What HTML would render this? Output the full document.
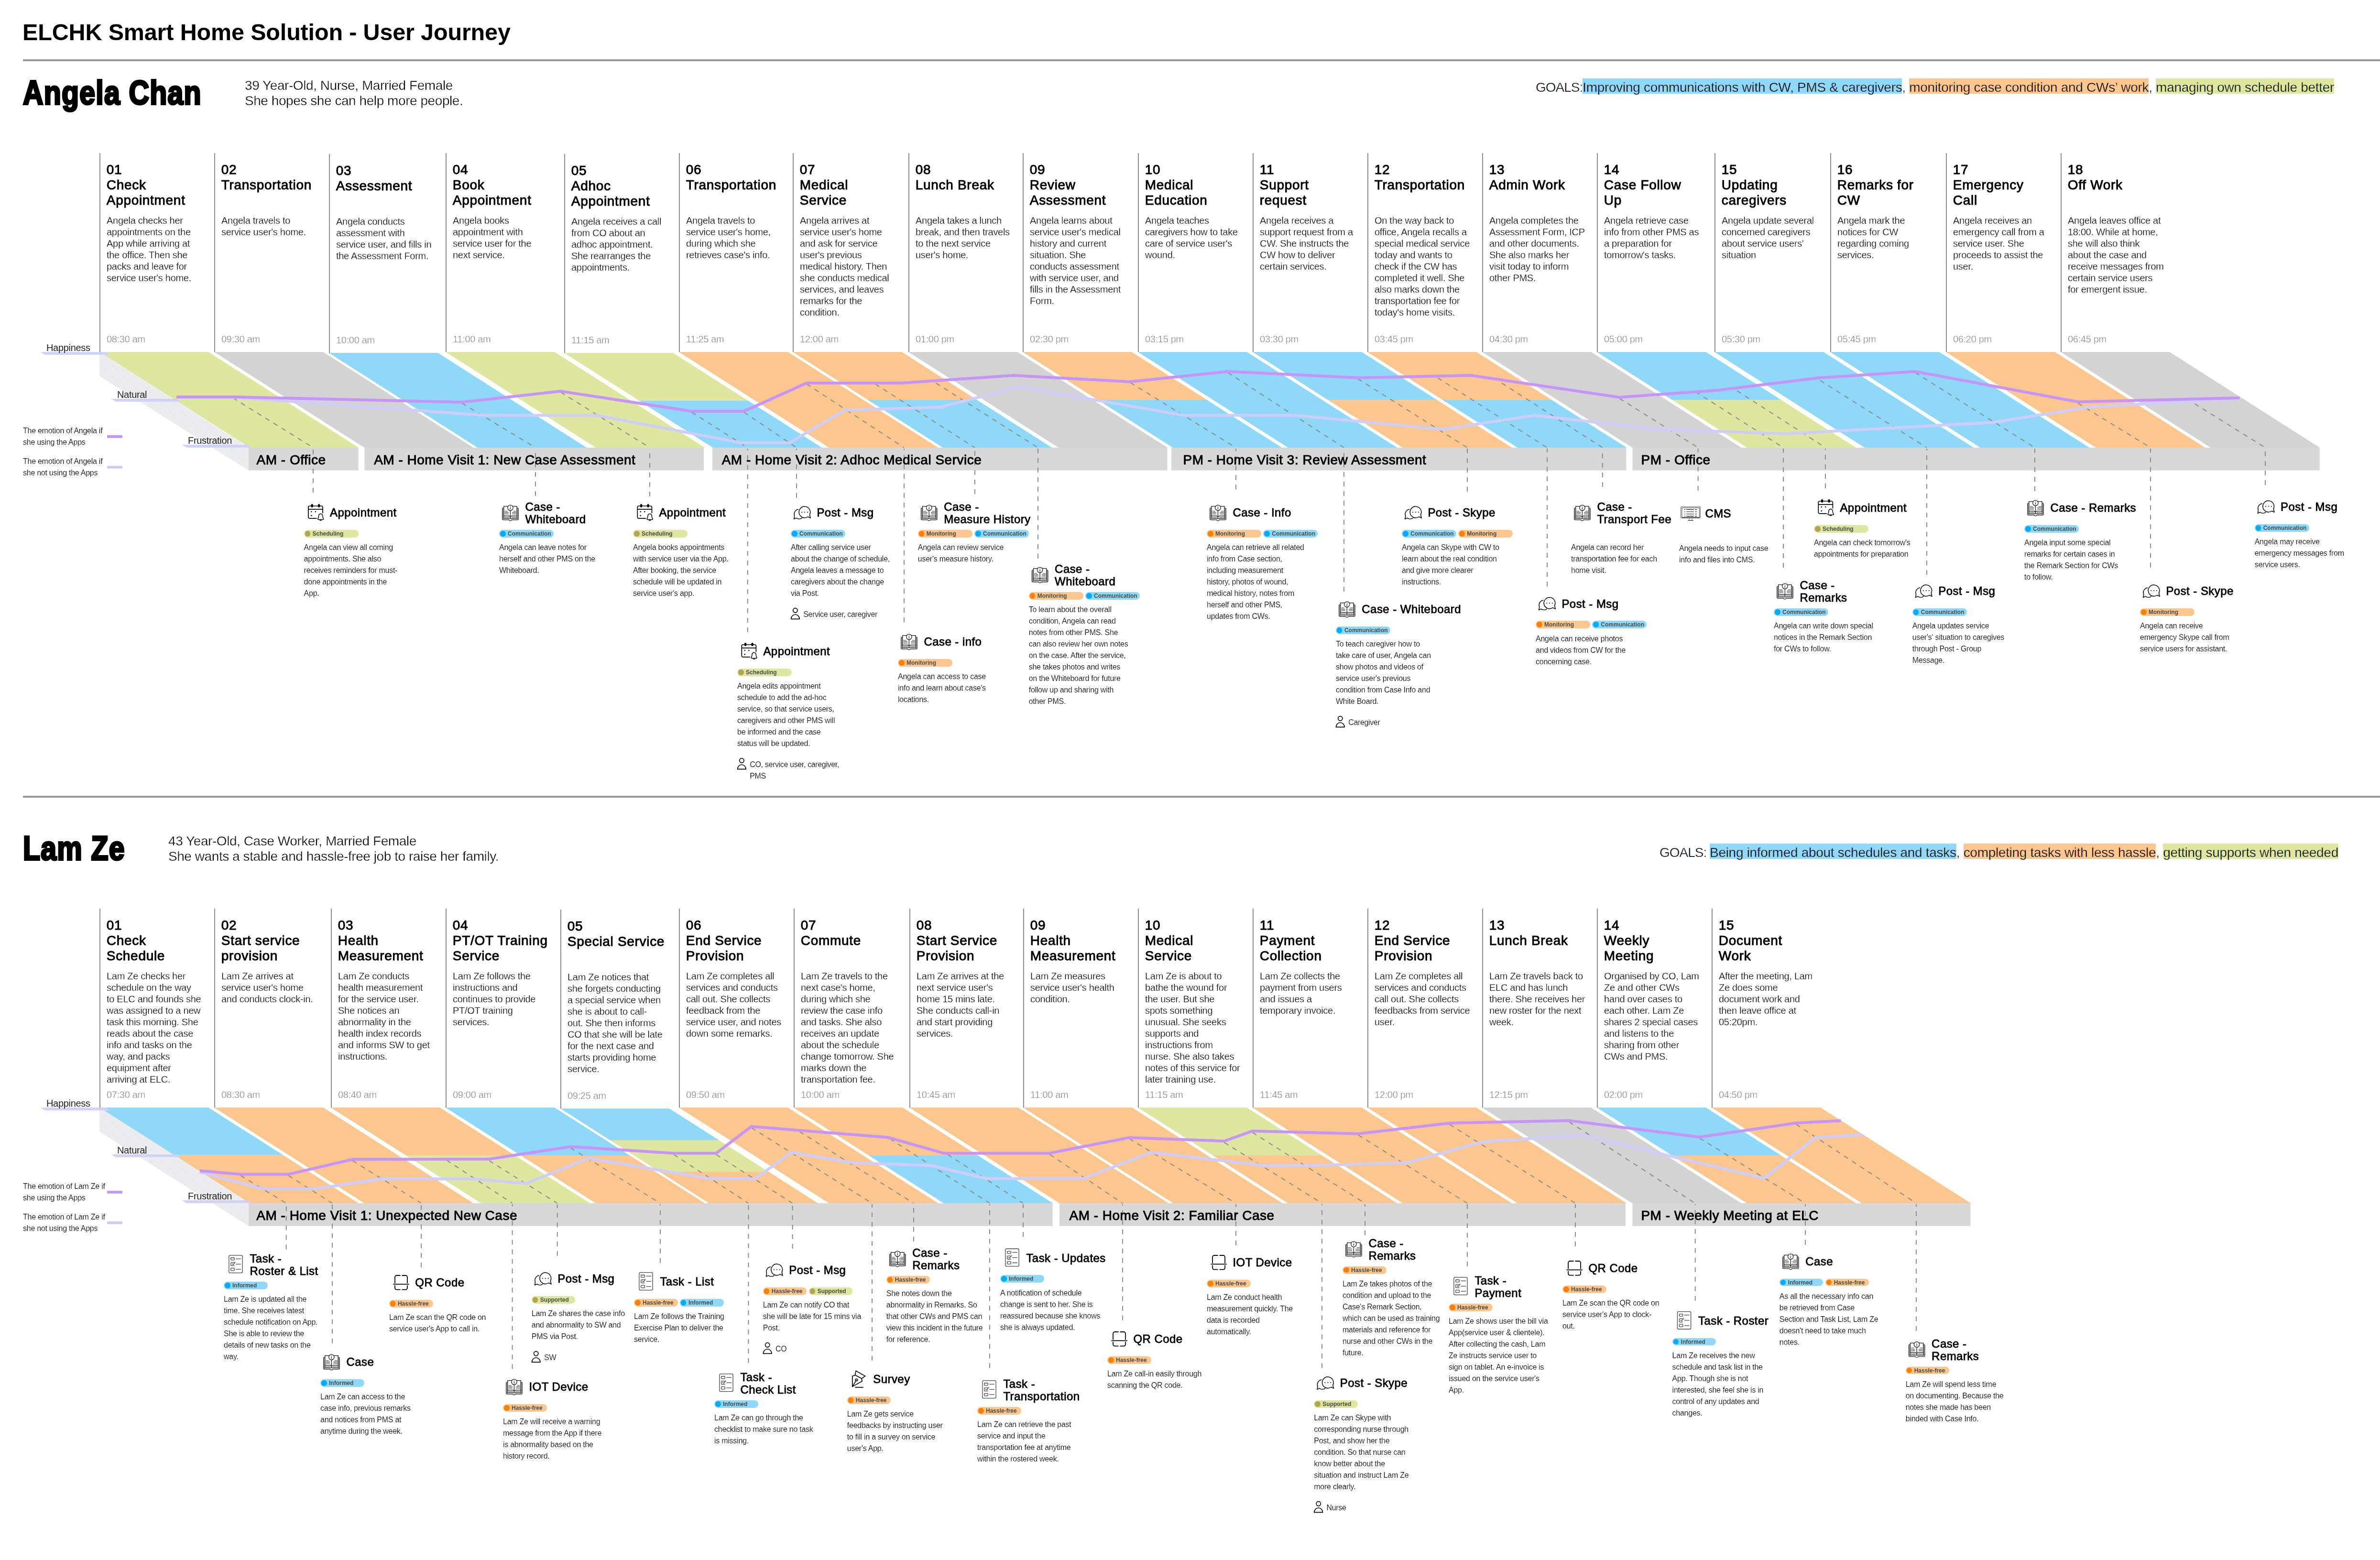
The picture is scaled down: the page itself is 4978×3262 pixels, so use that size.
<!DOCTYPE html>
<html><head><meta charset="utf-8"><title>ELCHK Smart Home Solution - User Journey</title>
<style>
*{margin:0;padding:0;box-sizing:border-box}
html,body{width:4978px;height:3262px;background:#fff;overflow:hidden}
body{position:relative;font-family:"Liberation Sans",sans-serif;color:#000}
.t{position:absolute;white-space:nowrap}
.title{font-size:48.5px;line-height:56px;font-weight:bold;letter-spacing:-0.15px}
.hr{position:absolute;left:48px;right:0;height:4px;background:#979797}
.name{font-size:70px;line-height:80px;font-weight:bold;letter-spacing:1.5px;-webkit-text-stroke:4px #000;stroke-linejoin:miter;transform-origin:0 0;transform:scaleX(0.8414)}
.sub{font-size:28px;line-height:32px;color:#000;-webkit-text-stroke:.4px #fff;letter-spacing:-0.44px}
.goals{font-size:28px;line-height:32px;color:#000;letter-spacing:-0.3px}
.gb{color:transparent}
.goals span{padding:2.7px 0 0;background-repeat:no-repeat;background-size:100% 32px}
.vl{position:absolute;width:2px;height:416px;background:#8e8e8e}
.ct{font-size:28px;line-height:32px;letter-spacing:0.69px;-webkit-text-stroke:.95px #000}
.cd{font-size:20px;line-height:24px;color:#000;-webkit-text-stroke:.28px #fff;letter-spacing:-0.29px}
.tm{font-size:20px;line-height:24px;color:#888;-webkit-text-stroke:.3px #fff;letter-spacing:-0.31px}
.bar{font-size:28px;line-height:32px;letter-spacing:0.49px;-webkit-text-stroke:.95px #000}
.kt{font-size:24px;line-height:25.6px;letter-spacing:0.45px;-webkit-text-stroke:.8px #000}
.kd{font-size:16px;line-height:24px;color:#000;-webkit-text-stroke:.18px #fff;letter-spacing:-0.256px}
.per{font-size:16px;line-height:24px;color:#000;-webkit-text-stroke:.18px #fff;letter-spacing:-0.35px}
.ax{font-size:20px;line-height:24px;color:#222;letter-spacing:-0.32px}
.leg{font-size:16px;line-height:23.9px;color:#000;-webkit-text-stroke:.18px #fff;letter-spacing:-0.26px}
.tag{position:absolute;height:15.8px;border-radius:8px}
.tagt{font-size:12px;line-height:17.8px;font-weight:bold;color:#4a4a4a;letter-spacing:0px}
.tag i{position:absolute;left:2.2px;top:2.2px;width:11.4px;height:11.4px;border-radius:50%}
.ic{position:absolute;left:0;top:0;overflow:visible}
#L{position:absolute;left:0;top:0}
#TX{position:absolute;left:0;top:0;width:4978px;height:3262px;filter:grayscale(1)}
.dd{fill:none;stroke:#8b8b8b;stroke-width:2;stroke-dasharray:10 10}
.dv{fill:none;stroke:#8b8b8b;stroke-width:2;stroke-dasharray:10 10}
.el{fill:none;stroke-width:6;stroke-linejoin:miter}
</style></head>
<body>
<svg width="0" height="0" style="position:absolute"><defs>
<symbol id="i-cal" viewBox="0 0 36 37"><g fill="none" stroke="#000" stroke-width="1.7" stroke-linecap="round">
<path d="M32 19.500V7.800a2.800 2.800 0 0 0-2.800-2.800H4.700a2.800 2.800 0 0 0-2.800 2.800v20.300a2.800 2.800 0 0 0 2.800 2.800H18.800"/><path d="M1.900 11.900H32" stroke-linecap="butt"/>
<path d="M27.700 21.200c-3.200.5-4.200 2.900-4.200 5.400 0 2.900-.9 4.100-1.700 5.300-.5.800.1 1.500.9 1.500h10c.8 0 1.400-.7.900-1.500-.8-1.200-1.700-2.400-1.700-5.300 0-2.500-1-4.900-4.200-5.400z" stroke-width="1.500" stroke-linejoin="round"/>
<path d="M25.900 34.200a1.900 1.600 0 0 0 3.600 0" stroke-width="1.400"/></g>
<rect x="7.500" y="1" width="4.400" height="7" rx="2.200"/><rect x="22" y="1" width="4.400" height="7" rx="2.200"/>
<circle cx="8.300" cy="17" r="1.300"/><circle cx="16.900" cy="17" r="1.300"/><circle cx="8.300" cy="25.200" r="1.300"/></symbol>

<symbol id="i-book" viewBox="0 0 36 37"><g fill="none" stroke="#333" stroke-width="1.300">
<rect x="1.400" y="9" width="3" height="23" fill="#a5a5a5" stroke="none"/><rect x="31.600" y="9" width="3" height="23" fill="#a5a5a5" stroke="none"/>
<path d="M4.300 8.100H3a1.800 1.800 0 0 0-1.800 1.800v21.300a1.800 1.800 0 0 0 1.800 1.800h12.300a2.700 2.700 0 0 0 5.200 0h12.400a1.800 1.800 0 0 0 1.800-1.800V9.900a1.800 1.800 0 0 0-1.800-1.800h-1.300"/>
<rect x="4.300" y="4.700" width="27.300" height="25.500" fill="#fff" stroke="#222"/>
<circle cx="17.900" cy="7.800" r="5.700" fill="#fff" stroke="#222"/>
<path d="M17.900 13.500V30.200" stroke="#222"/>
<path d="M17.900 6.600v4.300M17.900 4v1.100" stroke="#222" stroke-width="1.200"/>
<path d="M5.900 15.100h6.300M5.900 18h8.500M5.900 20.900h8.500M24.100 15.100h6.200M21.800 18h8.500M21.800 20.900h8.500M5.800 27.800h9.600M20.400 27.800h9.600" stroke="#555" stroke-width="1.300"/>
<path d="M4.300 24.700h8.700q4.900 0 4.900 3.200q0-3.200 4.900-3.200h8.800" stroke="#333" stroke-width="1.500"/></g></symbol>

<symbol id="i-chat" viewBox="0 0 38 30"><g fill="none" stroke="#000" stroke-width="1.500" stroke-linejoin="round">
<path d="M10.600 7.900A10.200 10.200 0 0 0 2.300 21.800L1.200 28.200l4.700-2.100A10.200 10.200 0 0 0 18.200 25.900"/>
<path d="M34 19.200A11.800 11.800 0 1 0 30.300 23.500l5.400 2.700z" fill="#fff"/></g>
<rect x="16.700" y="13.200" width="1.700" height="1.700"/><rect x="22.700" y="13.200" width="1.700" height="1.700"/><rect x="28.700" y="13.200" width="1.700" height="1.700"/></symbol>

<symbol id="i-task" viewBox="0 0 31 40"><g fill="none" stroke="#444" stroke-width="1.300">
<rect x="1.350" y="1.450" width="28.200" height="36.700" rx="2.300"/>
<rect x="5.300" y="6.500" width="7.400" height="4.800" rx=".8"/><path d="M12.700 18V17.200a.9.900 0 0 0-.9-.9H6.200a.9.900 0 0 0-.9.900v5.100a.9.900 0 0 0 .9.900h5.600a.9.900 0 0 0 .9-.7"/><rect x="5.300" y="28.100" width="7.400" height="5.200" rx=".8"/>
<path d="M15.900 8.800h10.600M15.900 19.800h10.600M15.900 30.700h10.600M7.700 19.100l2.700 1.700l4.500-5.700"/></g></symbol>

<symbol id="i-qr" viewBox="0 0 35 34"><g fill="none" stroke="#000" stroke-width="1.800" stroke-linecap="round">
<path d="M1.500 20.400h32.100M4.500 17.700V5.600a3.600 3.600 0 0 1 3.600-3.600h7.200M19.700 2h7.200a3.600 3.600 0 0 1 3.600 3.600V17.700M4.500 23.300v4.800a3.600 3.600 0 0 0 3.600 3.600h7.200M19.700 31.700h7.200a3.600 3.600 0 0 0 3.600-3.600V23.300"/></g></symbol>

<symbol id="i-pen" viewBox="0 0 32 38"><g fill="none" stroke="#000" stroke-width="1.700" stroke-linejoin="miter">
<path d="M10.200 1.600L29.500 12.300L22.300 17.600L8.500 10.200z"/><path d="M8.500 10.200L2.800 12.600V34.400L23 23.300L22.300 17.600"/>
<circle cx="11.400" cy="20.500" r="2.200"/><path d="M10.200 22.500L2.800 34.400M8.500 35.900h17.100" /></g></symbol>

<symbol id="i-mon" viewBox="0 0 43 31"><g fill="none" stroke="#3a3a3a" stroke-width=".9">
<rect x="1.250" y="1.350" width="40.600" height="23.300" rx=".6"/><rect x="3.450" y="3.450" width="36.400" height="19.900" /><path d="M3.400 23.600h36.500" stroke-width="1.300"/>
<path d="M18.500 24.900v4.600M24.500 24.900v4.600" stroke="#999" stroke-width="1.500"/><path d="M15.800 29.900h11.400" stroke="#333" stroke-width="1.100"/>
<path d="M8.500 6.900h2M12.600 6.900h15.700M30.700 6.900h3.800M8.500 20.800h2M12.600 20.800h15.700M30.700 20.800h3.800" stroke="#111" stroke-width="1.300"/>
<path d="M8.500 11.600h2M12.600 11.600h15.700M30.700 11.600h3.800M8.500 16.200h2M12.600 16.200h15.700M30.700 16.200h3.800" stroke="#666" stroke-width="1.500"/></g></symbol>

<symbol id="i-per" viewBox="0 0 21 26"><g fill="none" stroke="#000" stroke-width="1.700" stroke-linejoin="round">
<circle cx="10.300" cy="6.200" r="4.600"/><path d="M1.500 24.200a8.800 9.300 0 0 1 17.600 0z"/></g></symbol>
</defs></svg>
<svg id="L" width="4978" height="3262" viewBox="0 0 4978 3262">
<defs><pattern id="pm" width="4" height="4" patternUnits="userSpaceOnUse"><rect width="4" height="4" fill="#cbcbfd"/><circle cx="1" cy="1.400" r=".5" fill="#f4f4ff"/><circle cx="3" cy="1.400" r=".5" fill="#f4f4ff"/><circle cx="2" cy="3.400" r=".5" fill="#f4f4ff"/><circle cx="0" cy="3.700" r=".45" fill="#f4f4ff"/><circle cx="4" cy="3.700" r=".45" fill="#f4f4ff"/></pattern>
<pattern id="pw" width="6" height="6" patternUnits="userSpaceOnUse"><rect width="6" height="6" fill="#ecedee"/><circle cx="1.500" cy="1.500" r=".6" fill="#dfe0e4"/><circle cx="4.500" cy="4.500" r=".6" fill="#dfe0e4"/></pattern></defs>
<polygon fill="#dfe6a0" points="208.0,736.0 436.0,736.0 750.0,936.0 522.0,936.0"/>
<polygon fill="#d3d3d3" points="448.0,736.0 676.0,736.0 990.0,936.0 762.0,936.0"/>
<polygon fill="#8fd8f7" points="688.0,738.0 916.0,738.0 1226.9,936.0 998.9,936.0"/>
<polygon fill="#dfe6a0" points="932.0,736.0 1160.0,736.0 1474.0,936.0 1246.0,936.0"/>
<polygon fill="#dfe6a0" points="1180.0,738.0 1408.0,738.0 1564.2,837.5 1336.2,837.5"/>
<polygon fill="#8fd8f7" points="1336.2,837.5 1564.2,837.5 1718.9,936.0 1490.9,936.0"/>
<polygon fill="#fbc78e" points="1420.0,736.0 1648.0,736.0 1962.0,936.0 1734.0,936.0"/>
<polygon fill="#fbc78e" points="1658.0,736.0 1886.0,736.0 2043.0,836.0 1815.0,836.0"/>
<polygon fill="#8fd8f7" points="1815.0,836.0 2043.0,836.0 2200.0,936.0 1972.0,936.0"/>
<polygon fill="#d3d3d3" points="1900.0,736.0 2128.0,736.0 2442.0,936.0 2214.0,936.0"/>
<polygon fill="#fbc78e" points="2139.0,736.0 2367.0,736.0 2524.0,836.0 2296.0,836.0"/>
<polygon fill="#8fd8f7" points="2296.0,836.0 2524.0,836.0 2681.0,936.0 2453.0,936.0"/>
<polygon fill="#8fd8f7" points="2380.0,736.0 2608.0,736.0 2922.0,936.0 2694.0,936.0"/>
<polygon fill="#8fd8f7" points="2620.0,736.0 2848.0,736.0 3005.0,836.0 2777.0,836.0"/>
<polygon fill="#fbc78e" points="2777.0,836.0 3005.0,836.0 3162.0,936.0 2934.0,936.0"/>
<polygon fill="#fbc78e" points="2860.0,736.0 3088.0,736.0 3245.0,836.0 3017.0,836.0"/>
<polygon fill="#8fd8f7" points="3017.0,836.0 3245.0,836.0 3402.0,936.0 3174.0,936.0"/>
<polygon fill="#d3d3d3" points="3100.0,736.0 3328.0,736.0 3642.0,936.0 3414.0,936.0"/>
<polygon fill="#8fd8f7" points="3340.0,736.0 3568.0,736.0 3725.0,836.0 3497.0,836.0"/>
<polygon fill="#dfe6a0" points="3497.0,836.0 3725.0,836.0 3882.0,936.0 3654.0,936.0"/>
<polygon fill="#8fd8f7" points="3586.0,736.0 3814.0,736.0 4128.0,936.0 3900.0,936.0"/>
<polygon fill="#8fd8f7" points="3828.0,736.0 4056.0,736.0 4370.0,936.0 4142.0,936.0"/>
<polygon fill="#fbc78e" points="4070.0,736.0 4298.0,736.0 4612.0,936.0 4384.0,936.0"/>
<polygon fill="#d3d3d3" points="4310.0,736.0 4538.0,736.0 4852.0,936.0 4624.0,936.0"/>
<polygon fill="url(#pw)" points="208.0,736.0 208.0,786.4 519.8,983.6 519.8,936.0"/>
<polygon fill="url(#pm)" points="85.0,736.0 221.5,736.0 230.5,742.0 94.0,742.0"/>
<polygon fill="url(#pm)" points="233.0,834.0 369.5,834.0 378.5,840.0 242.0,840.0"/>
<polygon fill="url(#pm)" points="381.0,930.0 517.5,930.0 526.5,936.0 390.0,936.0"/>
<rect x="224" y="910" width="32" height="5.8" fill="#c794fa"/>
<rect x="224" y="974" width="32" height="5.8" fill="#cfcdfb"/>
<path class="dd" d="M487.0 832.0L655.0 936.0"/>
<path class="dd" d="M966.0 843.0L1120.0 936.0"/>
<path class="dd" d="M1172.5 820.0L1359.0 936.0"/>
<path class="dd" d="M1446.7 862.0L1563.7 936.0"/>
<path class="dd" d="M1556.0 862.0L1666.0 936.0"/>
<path class="dd" d="M1687.0 803.0L1891.0 936.0"/>
<path class="dd" d="M1830.7 803.0L2039.0 936.0"/>
<path class="dd" d="M1957.4 801.0L2171.0 936.0"/>
<path class="dd" d="M2364.0 800.0L2585.0 936.0"/>
<path class="dd" d="M2568.0 779.0L2811.0 936.0"/>
<path class="dd" d="M2840.0 792.0L3069.0 936.0"/>
<path class="dd" d="M3007.0 790.0L3236.0 936.0"/>
<path class="dd" d="M3141.0 801.0L3351.8 936.0"/>
<path class="dd" d="M3387.0 833.0L3551.7 936.0"/>
<path class="dd" d="M3546.0 819.0L3730.0 936.0"/>
<path class="dd" d="M3633.0 817.0L3818.0 936.0"/>
<path class="dd" d="M3807.0 795.6L4030.0 936.0"/>
<path class="dd" d="M4005.6 779.0L4256.0 936.0"/>
<path class="dd" d="M4346.0 843.0L4498.0 936.0"/>
<path class="dd" d="M4590.0 844.0L4738.0 936.0"/>
<polyline class="el" stroke="#cfcdfb" points="369.0,831.0 490.0,831.0 1015.6,868.6 1248.0,868.6 1550.7,926.0 1651.0,926.0 1766.4,858.0 1966.8,851.2 2131.4,808.9 2477.4,868.6 2710.0,868.6 3018.4,897.8 3209.4,868.6 3472.0,897.8 3737.0,907.0 4166.4,883.4 4366.9,851.6 4684.6,833.0"/>
<polyline class="el" stroke="#c794fa" points="369.0,830.0 490.0,830.0 966.0,841.0 1172.5,818.0 1446.7,860.0 1556.0,860.0 1687.0,801.0 1883.6,801.0 2120.0,785.0 2364.0,798.3 2568.3,776.7 2840.6,790.0 3077.0,785.0 3387.0,830.8 3593.0,816.0 3805.0,790.0 4005.6,776.7 4346.0,840.3 4684.6,832.0"/>
<rect x="519.8" y="936" width="229.9" height="47.6" fill="#d8d8d8"/>
<rect x="762.5" y="936" width="709.5" height="47.6" fill="#d8d8d8"/>
<rect x="1490" y="936" width="951.6" height="47.6" fill="#d8d8d8"/>
<rect x="2450" y="936" width="951.6" height="47.6" fill="#d8d8d8"/>
<rect x="3414.4" y="936" width="1437.3" height="47.6" fill="#d8d8d8"/>
<path class="dv" d="M655.0 1030.0V938.0"/>
<path class="dv" d="M1120.0 1037.0V938.0"/>
<path class="dv" d="M1359.0 1038.0V938.0"/>
<path class="dv" d="M1563.7 1322.0V938.0"/>
<path class="dv" d="M1666.0 1041.0V938.0"/>
<path class="dv" d="M1891.0 1301.0V938.0"/>
<path class="dv" d="M2039.0 1033.0V938.0"/>
<path class="dv" d="M2171.0 1168.0V938.0"/>
<path class="dv" d="M2585.0 1023.6V938.0"/>
<path class="dv" d="M2811.0 1237.0V938.0"/>
<path class="dv" d="M3069.0 1028.0V938.0"/>
<path class="dv" d="M3236.0 1226.0V938.0"/>
<path class="dv" d="M3351.8 1018.0V938.0"/>
<path class="dv" d="M3551.7 1025.8V938.0"/>
<path class="dv" d="M3730.0 1187.0V938.0"/>
<path class="dv" d="M3818.0 1021.0V938.0"/>
<path class="dv" d="M4030.0 1202.0V938.0"/>
<path class="dv" d="M4256.0 1027.0V938.0"/>
<path class="dv" d="M4498.0 1186.6V938.0"/>
<path class="dv" d="M4738.0 1014.0V938.0"/>
<polygon fill="#8fd8f7" points="208.0,2316.0 436.0,2316.0 592.4,2415.6 364.4,2415.6"/>
<polygon fill="#fbc78e" points="364.4,2415.6 592.4,2415.6 750.0,2516.0 522.0,2516.0"/>
<polygon fill="#fbc78e" points="448.0,2316.0 676.0,2316.0 990.0,2516.0 762.0,2516.0"/>
<polygon fill="#fbc78e" points="692.0,2316.0 920.0,2316.0 1077.0,2416.0 849.0,2416.0"/>
<polygon fill="#dfe6a0" points="849.0,2416.0 1077.0,2416.0 1234.0,2516.0 1006.0,2516.0"/>
<polygon fill="#8fd8f7" points="932.0,2316.0 1160.0,2316.0 1317.0,2416.0 1089.0,2416.0"/>
<polygon fill="#fbc78e" points="1089.0,2416.0 1317.0,2416.0 1474.0,2516.0 1246.0,2516.0"/>
<polygon fill="#8fd8f7" points="1172.0,2318.0 1400.0,2318.0 1503.6,2384.0 1275.6,2384.0"/>
<polygon fill="#dfe6a0" points="1275.6,2384.0 1503.6,2384.0 1607.2,2450.0 1379.2,2450.0"/>
<polygon fill="#fbc78e" points="1379.2,2450.0 1607.2,2450.0 1710.9,2516.0 1482.9,2516.0"/>
<polygon fill="#fbc78e" points="1420.0,2316.0 1648.0,2316.0 1962.0,2516.0 1734.0,2516.0"/>
<polygon fill="#fbc78e" points="1660.0,2316.0 1888.0,2316.0 2045.0,2416.0 1817.0,2416.0"/>
<polygon fill="#8fd8f7" points="1817.0,2416.0 2045.0,2416.0 2202.0,2516.0 1974.0,2516.0"/>
<polygon fill="#fbc78e" points="1902.0,2316.0 2130.0,2316.0 2444.0,2516.0 2216.0,2516.0"/>
<polygon fill="#fbc78e" points="2140.0,2316.0 2368.0,2316.0 2682.0,2516.0 2454.0,2516.0"/>
<polygon fill="#dfe6a0" points="2380.0,2316.0 2608.0,2316.0 2765.0,2416.0 2537.0,2416.0"/>
<polygon fill="#fbc78e" points="2537.0,2416.0 2765.0,2416.0 2922.0,2516.0 2694.0,2516.0"/>
<polygon fill="#fbc78e" points="2620.0,2316.0 2848.0,2316.0 3162.0,2516.0 2934.0,2516.0"/>
<polygon fill="#fbc78e" points="2860.0,2316.0 3088.0,2316.0 3402.0,2516.0 3174.0,2516.0"/>
<polygon fill="#d3d3d3" points="3100.0,2316.0 3328.0,2316.0 3642.0,2516.0 3414.0,2516.0"/>
<polygon fill="#8fd8f7" points="3340.0,2316.0 3568.0,2316.0 3725.0,2416.0 3497.0,2416.0"/>
<polygon fill="#fbc78e" points="3497.0,2416.0 3725.0,2416.0 3882.0,2516.0 3654.0,2516.0"/>
<polygon fill="#fbc78e" points="3580.0,2316.0 3808.0,2316.0 4122.0,2516.0 3894.0,2516.0"/>
<polygon fill="url(#pw)" points="208.0,2316.0 208.0,2366.4 519.8,2563.6 519.8,2516.0"/>
<polygon fill="url(#pm)" points="85.0,2316.0 221.5,2316.0 230.5,2322.0 94.0,2322.0"/>
<polygon fill="url(#pm)" points="233.0,2414.0 369.5,2414.0 378.5,2420.0 242.0,2420.0"/>
<polygon fill="url(#pm)" points="381.0,2510.0 517.5,2510.0 526.5,2516.0 390.0,2516.0"/>
<rect x="224" y="2490" width="32" height="5.8" fill="#c794fa"/>
<rect x="224" y="2554" width="32" height="5.8" fill="#cfcdfb"/>
<path class="dd" d="M503.0 2458.0L598.7 2516.0"/>
<path class="dd" d="M603.0 2458.0L695.0 2516.0"/>
<path class="dd" d="M737.5 2427.0L881.0 2516.0"/>
<path class="dd" d="M934.0 2426.0L1071.6 2516.0"/>
<path class="dd" d="M1023.0 2427.0L1165.7 2516.0"/>
<path class="dd" d="M1193.0 2400.0L1381.0 2516.0"/>
<path class="dd" d="M1409.0 2414.0L1565.5 2516.0"/>
<path class="dd" d="M1497.8 2414.0L1657.6 2516.0"/>
<path class="dd" d="M1571.5 2358.0L1824.0 2516.0"/>
<path class="dd" d="M1672.0 2366.0L1911.0 2516.0"/>
<path class="dd" d="M1861.0 2381.0L2070.0 2516.0"/>
<path class="dd" d="M1982.0 2414.0L2140.0 2516.0"/>
<path class="dd" d="M2195.7 2414.0L2348.0 2516.0"/>
<path class="dd" d="M2362.0 2381.0L2585.0 2516.0"/>
<path class="dd" d="M2560.7 2389.0L2765.0 2516.0"/>
<path class="dd" d="M2619.4 2368.0L2855.0 2516.0"/>
<path class="dd" d="M2840.6 2373.0L3069.0 2516.0"/>
<path class="dd" d="M3031.6 2351.0L3295.0 2516.0"/>
<path class="dd" d="M3282.0 2346.0L3545.7 2516.0"/>
<path class="dd" d="M3555.0 2380.0L3776.0 2516.0"/>
<path class="dd" d="M3756.7 2351.0L4008.0 2516.0"/>
<polyline class="el" stroke="#cfcdfb" points="418.0,2450.7 548.4,2486.0 658.0,2486.0 798.0,2465.0 993.0,2465.3 1100.7,2474.7 1231.0,2421.8 1486.0,2465.0 1579.0,2465.3 1654.8,2409.7 1785.0,2431.6 1948.0,2437.3 2063.0,2464.5 2265.6,2464.5 2407.5,2409.7 2645.8,2437.3 2732.8,2437.3 2940.8,2431.6 3099.7,2387.7 3309.0,2373.5 3689.5,2463.9 3796.6,2379.0 3895.4,2372.7"/>
<polyline class="el" stroke="#c794fa" points="418.0,2448.0 503.0,2455.6 603.0,2455.6 737.5,2424.3 1023.0,2423.7 1193.3,2397.6 1409.0,2411.6 1497.8,2411.6 1571.5,2355.6 1857.0,2378.3 1974.4,2411.6 2193.8,2411.6 2362.0,2378.7 2560.7,2386.0 2619.4,2365.0 2840.6,2370.7 3031.6,2348.4 3282.0,2343.3 3555.0,2377.7 3756.7,2348.3 3850.4,2343.3"/>
<rect x="520" y="2516" width="1681.7" height="47.6" fill="#d8d8d8"/>
<rect x="2216" y="2516" width="1184.0" height="47.6" fill="#d8d8d8"/>
<rect x="3414.3" y="2516" width="707.1" height="47.6" fill="#d8d8d8"/>
<path class="dv" d="M598.7 2612.5V2518.0"/>
<path class="dv" d="M695.0 2808.7V2518.0"/>
<path class="dv" d="M881.0 2650.0V2518.0"/>
<path class="dv" d="M1071.6 2862.5V2518.0"/>
<path class="dv" d="M1165.7 2626.0V2518.0"/>
<path class="dv" d="M1381.0 2640.7V2518.0"/>
<path class="dv" d="M1565.5 2850.0V2518.0"/>
<path class="dv" d="M1657.6 2611.0V2518.0"/>
<path class="dv" d="M1824.0 2845.0V2518.0"/>
<path class="dv" d="M1911.0 2595.7V2518.0"/>
<path class="dv" d="M2070.0 2860.4V2518.0"/>
<path class="dv" d="M2140.0 2586.0V2518.0"/>
<path class="dv" d="M2348.0 2760.8V2518.0"/>
<path class="dv" d="M2585.0 2604.0V2518.0"/>
<path class="dv" d="M2765.0 2860.4V2518.0"/>
<path class="dv" d="M2855.0 2583.0V2518.0"/>
<path class="dv" d="M3069.0 2648.0V2518.0"/>
<path class="dv" d="M3295.0 2606.0V2518.0"/>
<path class="dv" d="M3545.7 2720.0V2518.0"/>
<path class="dv" d="M3776.0 2602.5V2518.0"/>
<path class="dv" d="M4008.0 2782.8V2518.0"/>
</svg>
<div class="hr" style="top:124px"></div>
<div class="hr" style="top:1664px"></div>
<div class="t goals gb" style="left:3212px;top:167.00px"><b style="font-weight:normal;letter-spacing:-1px">GOALS:</b><span style="background-image:linear-gradient(#8fd8f7,#8fd8f7)">Improving communications with CW, PMS &amp; caregivers</span>, <span style="background-image:linear-gradient(#fbc78e,#fbc78e)">monitoring case condition and CWs’ work</span>, <span style="background-image:linear-gradient(#dfe6a0,#dfe6a0)">managing own schedule better</span></div>
<div class="vl" style="left:208.0px;top:320px"></div>
<div class="vl" style="left:448.0px;top:320px"></div>
<div class="vl" style="left:688.0px;top:322px"></div>
<div class="vl" style="left:932.0px;top:320px"></div>
<div class="vl" style="left:1180.0px;top:322px"></div>
<div class="vl" style="left:1420.0px;top:320px"></div>
<div class="vl" style="left:1658.0px;top:320px"></div>
<div class="vl" style="left:1900.0px;top:320px"></div>
<div class="vl" style="left:2139.0px;top:320px"></div>
<div class="vl" style="left:2380.0px;top:320px"></div>
<div class="vl" style="left:2620.0px;top:320px"></div>
<div class="vl" style="left:2860.0px;top:320px"></div>
<div class="vl" style="left:3100.0px;top:320px"></div>
<div class="vl" style="left:3340.0px;top:320px"></div>
<div class="vl" style="left:3586.0px;top:320px"></div>
<div class="vl" style="left:3828.0px;top:320px"></div>
<div class="vl" style="left:4070.0px;top:320px"></div>
<div class="vl" style="left:4310.0px;top:320px"></div>
<svg class="ic" style="transform:translate(643.0px,1053.0px)" width="36" height="37"><use href="#i-cal"/></svg>
<div class="tag" style="left:635.6px;top:1108.0px;width:114px;background:#dfe6a0"><i style="background:#b4a54d"></i></div>
<svg class="ic" style="transform:translate(1049.5px,1054.0px)" width="36" height="37"><use href="#i-book"/></svg>
<div class="tag" style="left:1044.0px;top:1108.0px;width:114px;background:#8fd8f7"><i style="background:#00aaff"></i></div>
<svg class="ic" style="transform:translate(1331.4px,1053.0px)" width="36" height="37"><use href="#i-cal"/></svg>
<div class="tag" style="left:1324.0px;top:1108.0px;width:114px;background:#dfe6a0"><i style="background:#b4a54d"></i></div>
<svg class="ic" style="transform:translate(1659.5px,1057.0px)" width="38" height="30"><use href="#i-chat"/></svg>
<div class="tag" style="left:1654.0px;top:1108.0px;width:114px;background:#8fd8f7"><i style="background:#00aaff"></i></div>
<svg class="ic" style="transform:translate(1653.1px,1270.1px)" width="21" height="26"><use href="#i-per"/></svg>
<svg class="ic" style="transform:translate(1549.4px,1343.0px)" width="36" height="37"><use href="#i-cal"/></svg>
<div class="tag" style="left:1542.0px;top:1398.0px;width:114px;background:#dfe6a0"><i style="background:#b4a54d"></i></div>
<svg class="ic" style="transform:translate(1541.1px,1584.1px)" width="21" height="26"><use href="#i-per"/></svg>
<svg class="ic" style="transform:translate(1925.3px,1054.0px)" width="36" height="37"><use href="#i-book"/></svg>
<div class="tag" style="left:1919.8px;top:1108.0px;width:114px;background:#fbc78e"><i style="background:#ff8000"></i></div>
<div class="tag" style="left:2038.1px;top:1108.0px;width:114px;background:#8fd8f7"><i style="background:#00aaff"></i></div>
<svg class="ic" style="transform:translate(1883.5px,1324.0px)" width="36" height="37"><use href="#i-book"/></svg>
<div class="tag" style="left:1878.0px;top:1378.0px;width:114px;background:#fbc78e"><i style="background:#ff8000"></i></div>
<svg class="ic" style="transform:translate(2157.2px,1184.0px)" width="36" height="37"><use href="#i-book"/></svg>
<div class="tag" style="left:2151.7px;top:1238.0px;width:114px;background:#fbc78e"><i style="background:#ff8000"></i></div>
<div class="tag" style="left:2270.0px;top:1238.0px;width:114px;background:#8fd8f7"><i style="background:#00aaff"></i></div>
<svg class="ic" style="transform:translate(2529.5px,1054.0px)" width="36" height="37"><use href="#i-book"/></svg>
<div class="tag" style="left:2524.0px;top:1108.0px;width:114px;background:#fbc78e"><i style="background:#ff8000"></i></div>
<div class="tag" style="left:2642.3px;top:1108.0px;width:114px;background:#8fd8f7"><i style="background:#00aaff"></i></div>
<svg class="ic" style="transform:translate(2799.4px,1256.0px)" width="36" height="37"><use href="#i-book"/></svg>
<div class="tag" style="left:2793.9px;top:1310.0px;width:114px;background:#8fd8f7"><i style="background:#00aaff"></i></div>
<svg class="ic" style="transform:translate(2793.0px,1496.1px)" width="21" height="26"><use href="#i-per"/></svg>
<svg class="ic" style="transform:translate(2937.5px,1057.0px)" width="38" height="30"><use href="#i-chat"/></svg>
<div class="tag" style="left:2932.0px;top:1108.0px;width:114px;background:#8fd8f7"><i style="background:#00aaff"></i></div>
<div class="tag" style="left:3050.3px;top:1108.0px;width:114px;background:#fbc78e"><i style="background:#ff8000"></i></div>
<svg class="ic" style="transform:translate(3291.5px,1054.0px)" width="36" height="37"><use href="#i-book"/></svg>
<svg class="ic" style="transform:translate(3217.5px,1247.2px)" width="38" height="30"><use href="#i-chat"/></svg>
<div class="tag" style="left:3212.0px;top:1298.2px;width:114px;background:#fbc78e"><i style="background:#ff8000"></i></div>
<div class="tag" style="left:3330.3px;top:1298.2px;width:114px;background:#8fd8f7"><i style="background:#00aaff"></i></div>
<svg class="ic" style="transform:translate(3514.5px,1058.5px)" width="43" height="31"><use href="#i-mon"/></svg>
<svg class="ic" style="transform:translate(3801.4px,1043.0px)" width="36" height="37"><use href="#i-cal"/></svg>
<div class="tag" style="left:3794.0px;top:1098.0px;width:114px;background:#dfe6a0"><i style="background:#b4a54d"></i></div>
<svg class="ic" style="transform:translate(3715.5px,1218.0px)" width="36" height="37"><use href="#i-book"/></svg>
<div class="tag" style="left:3710.0px;top:1272.0px;width:114px;background:#8fd8f7"><i style="background:#00aaff"></i></div>
<svg class="ic" style="transform:translate(4005.3px,1221.0px)" width="38" height="30"><use href="#i-chat"/></svg>
<div class="tag" style="left:3999.8px;top:1272.0px;width:114px;background:#8fd8f7"><i style="background:#00aaff"></i></div>
<svg class="ic" style="transform:translate(4239.5px,1044.0px)" width="36" height="37"><use href="#i-book"/></svg>
<div class="tag" style="left:4234.0px;top:1098.0px;width:114px;background:#8fd8f7"><i style="background:#00aaff"></i></div>
<svg class="ic" style="transform:translate(4481.5px,1221.0px)" width="38" height="30"><use href="#i-chat"/></svg>
<div class="tag" style="left:4476.0px;top:1272.0px;width:114px;background:#fbc78e"><i style="background:#ff8000"></i></div>
<svg class="ic" style="transform:translate(4721.2px,1045.0px)" width="38" height="30"><use href="#i-chat"/></svg>
<div class="tag" style="left:4715.7px;top:1096.0px;width:114px;background:#8fd8f7"><i style="background:#00aaff"></i></div>
<div class="t goals gb" style="left:3471px;top:1767.00px"><b style="font-weight:normal;letter-spacing:-1px">GOALS: </b><span style="background-image:linear-gradient(#8fd8f7,#8fd8f7)">Being informed about schedules and tasks</span>, <span style="background-image:linear-gradient(#fbc78e,#fbc78e)">completing tasks with less hassle</span>, <span style="background-image:linear-gradient(#dfe6a0,#dfe6a0)">getting supports when needed</span></div>
<div class="vl" style="left:208.0px;top:1900px"></div>
<div class="vl" style="left:448.0px;top:1900px"></div>
<div class="vl" style="left:692.0px;top:1900px"></div>
<div class="vl" style="left:932.0px;top:1900px"></div>
<div class="vl" style="left:1172.0px;top:1902px"></div>
<div class="vl" style="left:1420.0px;top:1900px"></div>
<div class="vl" style="left:1660.0px;top:1900px"></div>
<div class="vl" style="left:1902.0px;top:1900px"></div>
<div class="vl" style="left:2140.0px;top:1900px"></div>
<div class="vl" style="left:2380.0px;top:1900px"></div>
<div class="vl" style="left:2620.0px;top:1900px"></div>
<div class="vl" style="left:2860.0px;top:1900px"></div>
<div class="vl" style="left:3100.0px;top:1900px"></div>
<div class="vl" style="left:3340.0px;top:1900px"></div>
<div class="vl" style="left:3580.0px;top:1900px"></div>
<svg class="ic" style="transform:translate(477.5px,2623.5px)" width="31" height="40"><use href="#i-task"/></svg>
<div class="tag" style="left:468.0px;top:2680.0px;width:91.7px;background:#8fd8f7"><i style="background:#00aaff"></i></div>
<svg class="ic" style="transform:translate(675.5px,2830.0px)" width="36" height="37"><use href="#i-book"/></svg>
<div class="tag" style="left:670.0px;top:2884.0px;width:91.7px;background:#8fd8f7"><i style="background:#00aaff"></i></div>
<svg class="ic" style="transform:translate(821.5px,2665.0px)" width="35" height="34"><use href="#i-qr"/></svg>
<div class="tag" style="left:813.9px;top:2718.0px;width:91.7px;background:#fbc78e"><i style="background:#ff8000"></i></div>
<svg class="ic" style="transform:translate(1117.3px,2659.0px)" width="38" height="30"><use href="#i-chat"/></svg>
<div class="tag" style="left:1111.8px;top:2710.0px;width:91.7px;background:#dfe6a0"><i style="background:#b4a54d"></i></div>
<svg class="ic" style="transform:translate(1110.9px,2824.1px)" width="21" height="26"><use href="#i-per"/></svg>
<svg class="ic" style="transform:translate(1057.5px,2882.0px)" width="36" height="37"><use href="#i-book"/></svg>
<div class="tag" style="left:1052.0px;top:2936.0px;width:91.7px;background:#fbc78e"><i style="background:#ff8000"></i></div>
<svg class="ic" style="transform:translate(1335.5px,2659.5px)" width="31" height="40"><use href="#i-task"/></svg>
<div class="tag" style="left:1326.0px;top:2716.0px;width:91.7px;background:#fbc78e"><i style="background:#ff8000"></i></div>
<div class="tag" style="left:1421.9px;top:2716.0px;width:91.7px;background:#8fd8f7"><i style="background:#00aaff"></i></div>
<svg class="ic" style="transform:translate(1601.3px,2641.0px)" width="38" height="30"><use href="#i-chat"/></svg>
<div class="tag" style="left:1595.8px;top:2692.0px;width:91.7px;background:#fbc78e"><i style="background:#ff8000"></i></div>
<div class="tag" style="left:1691.7px;top:2692.0px;width:91.7px;background:#dfe6a0"><i style="background:#b4a54d"></i></div>
<svg class="ic" style="transform:translate(1594.9px,2806.1px)" width="21" height="26"><use href="#i-per"/></svg>
<svg class="ic" style="transform:translate(1503.5px,2871.5px)" width="31" height="40"><use href="#i-task"/></svg>
<div class="tag" style="left:1494.0px;top:2928.0px;width:91.7px;background:#8fd8f7"><i style="background:#00aaff"></i></div>
<svg class="ic" style="transform:translate(1859.3px,2614.0px)" width="36" height="37"><use href="#i-book"/></svg>
<div class="tag" style="left:1853.8px;top:2668.0px;width:91.7px;background:#fbc78e"><i style="background:#ff8000"></i></div>
<svg class="ic" style="transform:translate(1780.0px,2865.0px)" width="32" height="38"><use href="#i-pen"/></svg>
<div class="tag" style="left:1771.8px;top:2920.0px;width:91.7px;background:#fbc78e"><i style="background:#ff8000"></i></div>
<svg class="ic" style="transform:translate(2101.5px,2609.8px)" width="31" height="40"><use href="#i-task"/></svg>
<div class="tag" style="left:2092.0px;top:2666.3px;width:91.7px;background:#8fd8f7"><i style="background:#00aaff"></i></div>
<svg class="ic" style="transform:translate(2053.5px,2885.5px)" width="31" height="40"><use href="#i-task"/></svg>
<div class="tag" style="left:2044.0px;top:2942.0px;width:91.7px;background:#fbc78e"><i style="background:#ff8000"></i></div>
<svg class="ic" style="transform:translate(2323.6px,2783.0px)" width="35" height="34"><use href="#i-qr"/></svg>
<div class="tag" style="left:2316.0px;top:2836.0px;width:91.7px;background:#fbc78e"><i style="background:#ff8000"></i></div>
<svg class="ic" style="transform:translate(2531.6px,2623.0px)" width="35" height="34"><use href="#i-qr"/></svg>
<div class="tag" style="left:2524.0px;top:2676.0px;width:91.7px;background:#fbc78e"><i style="background:#ff8000"></i></div>
<svg class="ic" style="transform:translate(2813.5px,2593.8px)" width="36" height="37"><use href="#i-book"/></svg>
<div class="tag" style="left:2808.0px;top:2647.8px;width:91.7px;background:#fbc78e"><i style="background:#ff8000"></i></div>
<svg class="ic" style="transform:translate(2753.8px,2877.0px)" width="38" height="30"><use href="#i-chat"/></svg>
<div class="tag" style="left:2748.3px;top:2928.0px;width:91.7px;background:#dfe6a0"><i style="background:#b4a54d"></i></div>
<svg class="ic" style="transform:translate(2747.4px,3138.1px)" width="21" height="26"><use href="#i-per"/></svg>
<svg class="ic" style="transform:translate(3039.5px,2669.5px)" width="31" height="40"><use href="#i-task"/></svg>
<div class="tag" style="left:3030.0px;top:2726.0px;width:91.7px;background:#fbc78e"><i style="background:#ff8000"></i></div>
<svg class="ic" style="transform:translate(3275.6px,2635.0px)" width="35" height="34"><use href="#i-qr"/></svg>
<div class="tag" style="left:3268.0px;top:2688.0px;width:91.7px;background:#fbc78e"><i style="background:#ff8000"></i></div>
<svg class="ic" style="transform:translate(3507.1px,2741.1px)" width="31" height="40"><use href="#i-task"/></svg>
<div class="tag" style="left:3497.6px;top:2797.6px;width:91.7px;background:#8fd8f7"><i style="background:#00aaff"></i></div>
<svg class="ic" style="transform:translate(3727.3px,2619.7px)" width="36" height="37"><use href="#i-book"/></svg>
<div class="tag" style="left:3721.8px;top:2673.7px;width:91.7px;background:#8fd8f7"><i style="background:#00aaff"></i></div>
<div class="tag" style="left:3817.7px;top:2673.7px;width:91.7px;background:#fbc78e"><i style="background:#ff8000"></i></div>
<svg class="ic" style="transform:translate(3991.2px,2803.6px)" width="36" height="37"><use href="#i-book"/></svg>
<div class="tag" style="left:3985.7px;top:2857.6px;width:91.7px;background:#fbc78e"><i style="background:#ff8000"></i></div>
<div id="TX">
<div class="t title" style="left:47.0px;top:39.00px;">ELCHK Smart Home Solution - User Journey</div>
<div class="t name" style="left:48.4px;top:154.00px;">Angela Chan</div>
<div class="t sub" style="left:512.0px;top:163.00px;">39 Year-Old, Nurse, Married Female<br>She hopes she can help more people.</div>
<div class="t goals" style="left:3212px;top:167.00px"><b style="font-weight:normal;letter-spacing:-1px">GOALS:</b>Improving communications with CW, PMS &amp; caregivers, monitoring case condition and CWs’ work, managing own schedule better</div>
<div class="t ct" style="left:222.8px;top:339.00px;">01<br>Check<br>Appointment</div>
<div class="t cd" style="left:223.0px;top:449.00px;">Angela checks her<br>appointments on the<br>App while arriving at<br>the office. Then she<br>packs and leave for<br>service user's home.</div>
<div class="t tm" style="left:223.0px;top:697.00px;">08:30 am</div>
<div class="t ct" style="left:462.8px;top:339.00px;">02<br>Transportation</div>
<div class="t cd" style="left:463.0px;top:449.00px;">Angela travels to<br>service user's home.</div>
<div class="t tm" style="left:463.0px;top:697.00px;">09:30 am</div>
<div class="t ct" style="left:702.8px;top:341.00px;">03<br>Assessment</div>
<div class="t cd" style="left:703.0px;top:451.00px;">Angela conducts<br>assessment with<br>service user, and fills in<br>the Assessment Form.</div>
<div class="t tm" style="left:703.0px;top:699.00px;">10:00 am</div>
<div class="t ct" style="left:946.8px;top:339.00px;">04<br>Book<br>Appointment</div>
<div class="t cd" style="left:947.0px;top:449.00px;">Angela books<br>appointment with<br>service user for the<br>next service.</div>
<div class="t tm" style="left:947.0px;top:697.00px;">11:00 am</div>
<div class="t ct" style="left:1194.8px;top:341.00px;">05<br>Adhoc<br>Appointment</div>
<div class="t cd" style="left:1195.0px;top:451.00px;">Angela receives a call<br>from CO about an<br>adhoc appointment.<br>She rearranges the<br>appointments.</div>
<div class="t tm" style="left:1195.0px;top:699.00px;">11:15 am</div>
<div class="t ct" style="left:1434.8px;top:339.00px;">06<br>Transportation</div>
<div class="t cd" style="left:1435.0px;top:449.00px;">Angela travels to<br>service user's home,<br>during which she<br>retrieves case's info.</div>
<div class="t tm" style="left:1435.0px;top:697.00px;">11:25 am</div>
<div class="t ct" style="left:1672.8px;top:339.00px;">07<br>Medical<br>Service</div>
<div class="t cd" style="left:1673.0px;top:449.00px;">Angela arrives at<br>service user's home<br>and ask for service<br>user's previous<br>medical history. Then<br>she conducts medical<br>services, and leaves<br>remarks for the<br>condition.</div>
<div class="t tm" style="left:1673.0px;top:697.00px;">12:00 am</div>
<div class="t ct" style="left:1914.8px;top:339.00px;">08<br>Lunch Break</div>
<div class="t cd" style="left:1915.0px;top:449.00px;">Angela takes a lunch<br>break, and then travels<br>to the next service<br>user's home.</div>
<div class="t tm" style="left:1915.0px;top:697.00px;">01:00 pm</div>
<div class="t ct" style="left:2153.8px;top:339.00px;">09<br>Review<br>Assessment</div>
<div class="t cd" style="left:2154.0px;top:449.00px;">Angela learns about<br>service user's medical<br>history and current<br>situation. She<br>conducts assessment<br>with service user, and<br>fills in the Assessment<br>Form.</div>
<div class="t tm" style="left:2154.0px;top:697.00px;">02:30 pm</div>
<div class="t ct" style="left:2394.8px;top:339.00px;">10<br>Medical<br>Education</div>
<div class="t cd" style="left:2395.0px;top:449.00px;">Angela teaches<br>caregivers how to take<br>care of service user's<br>wound.</div>
<div class="t tm" style="left:2395.0px;top:697.00px;">03:15 pm</div>
<div class="t ct" style="left:2634.8px;top:339.00px;">11<br>Support<br>request</div>
<div class="t cd" style="left:2635.0px;top:449.00px;">Angela receives a<br>support request from a<br>CW. She instructs the<br>CW how to deliver<br>certain services.</div>
<div class="t tm" style="left:2635.0px;top:697.00px;">03:30 pm</div>
<div class="t ct" style="left:2874.8px;top:339.00px;">12<br>Transportation</div>
<div class="t cd" style="left:2875.0px;top:449.00px;">On the way back to<br>office, Angela recalls a<br>special medical service<br>today and wants to<br>check if the CW has<br>completed it well. She<br>also marks down the<br>transportation fee for<br>today's home visits.</div>
<div class="t tm" style="left:2875.0px;top:697.00px;">03:45 pm</div>
<div class="t ct" style="left:3114.8px;top:339.00px;">13<br>Admin Work</div>
<div class="t cd" style="left:3115.0px;top:449.00px;">Angela completes the<br>Assessment Form, ICP<br>and other documents.<br>She also marks her<br>visit today to inform<br>other PMS.</div>
<div class="t tm" style="left:3115.0px;top:697.00px;">04:30 pm</div>
<div class="t ct" style="left:3354.8px;top:339.00px;">14<br>Case Follow<br>Up</div>
<div class="t cd" style="left:3355.0px;top:449.00px;">Angela retrieve case<br>info from other PMS as<br>a preparation for<br>tomorrow's tasks.</div>
<div class="t tm" style="left:3355.0px;top:697.00px;">05:00 pm</div>
<div class="t ct" style="left:3600.8px;top:339.00px;">15<br>Updating<br>caregivers</div>
<div class="t cd" style="left:3601.0px;top:449.00px;">Angela update several<br>concerned caregivers<br>about service users'<br>situation</div>
<div class="t tm" style="left:3601.0px;top:697.00px;">05:30 pm</div>
<div class="t ct" style="left:3842.8px;top:339.00px;">16<br>Remarks for<br>CW</div>
<div class="t cd" style="left:3843.0px;top:449.00px;">Angela mark the<br>notices for CW<br>regarding coming<br>services.</div>
<div class="t tm" style="left:3843.0px;top:697.00px;">05:45 pm</div>
<div class="t ct" style="left:4084.8px;top:339.00px;">17<br>Emergency<br>Call</div>
<div class="t cd" style="left:4085.0px;top:449.00px;">Angela receives an<br>emergency call from a<br>service user. She<br>proceeds to assist the<br>user.</div>
<div class="t tm" style="left:4085.0px;top:697.00px;">06:20 pm</div>
<div class="t ct" style="left:4324.8px;top:339.00px;">18<br>Off Work</div>
<div class="t cd" style="left:4325.0px;top:449.00px;">Angela leaves office at<br>18:00. While at home,<br>she will also think<br>about the case and<br>receive messages from<br>certain service users<br>for emergent issue.</div>
<div class="t tm" style="left:4325.0px;top:697.00px;">06:45 pm</div>
<div class="t ax" style="left:97.0px;top:715.00px;">Happiness</div>
<div class="t ax" style="left:245.0px;top:813.00px;">Natural</div>
<div class="t ax" style="left:393.0px;top:909.00px;">Frustration</div>
<div class="t leg" style="left:48.0px;top:889.00px;">The emotion of Angela if<br>she using the Apps</div>
<div class="t leg" style="left:48.0px;top:953.00px;">The emotion of Angela if<br>she not using the Apps</div>
<div class="t bar" style="left:536.6px;top:946.00px;">AM - Office</div>
<div class="t bar" style="left:782.2px;top:946.00px;">AM - Home Visit 1: New Case Assessment</div>
<div class="t bar" style="left:1509.7px;top:946.00px;">AM - Home Visit 2: Adhoc Medical Service</div>
<div class="t bar" style="left:2474.5px;top:946.00px;">PM - Home Visit 3: Review Assessment</div>
<div class="t bar" style="left:3432.6px;top:946.00px;">PM - Office</div>
<div class="t kt" style="left:690.0px;top:1059.00px;">Appointment</div>
<div class="t tagt" style="left:653.6px;top:1108.0px">Scheduling</div>
<div class="t kd" style="left:635.6px;top:1133.00px;">Angela can view all coming<br>appointments. She also<br>receives reminders for must-<br>done appointments in the<br>App.</div>
<div class="t kt" style="left:1098.4px;top:1047.00px;">Case -<br>Whiteboard</div>
<div class="t tagt" style="left:1062.0px;top:1108.0px">Communication</div>
<div class="t kd" style="left:1044.0px;top:1133.00px;">Angela can leave notes for<br>herself and other PMS on the<br>Whiteboard.</div>
<div class="t kt" style="left:1378.4px;top:1059.00px;">Appointment</div>
<div class="t tagt" style="left:1342.0px;top:1108.0px">Scheduling</div>
<div class="t kd" style="left:1324.0px;top:1133.00px;">Angela books appointments<br>with service user via the App.<br>After booking, the service<br>schedule will be updated in<br>service user's app.</div>
<div class="t kt" style="left:1708.4px;top:1059.00px;">Post - Msg</div>
<div class="t tagt" style="left:1672.0px;top:1108.0px">Communication</div>
<div class="t kd" style="left:1654.0px;top:1133.00px;">After calling service user<br>about the change of schedule,<br>Angela leaves a message to<br>caregivers about the change<br>via Post.</div>
<div class="t per" style="left:1680.3px;top:1273.00px;">Service user, caregiver</div>
<div class="t kt" style="left:1596.4px;top:1349.00px;">Appointment</div>
<div class="t tagt" style="left:1560.0px;top:1398.0px">Scheduling</div>
<div class="t kd" style="left:1542.0px;top:1423.00px;">Angela edits appointment<br>schedule to add the ad-hoc<br>service, so that service users,<br>caregivers and other PMS will<br>be informed and the case<br>status will be updated.</div>
<div class="t per" style="left:1568.3px;top:1587.00px;">CO, service user, caregiver,<br>PMS</div>
<div class="t kt" style="left:1974.2px;top:1047.00px;">Case -<br>Measure History</div>
<div class="t tagt" style="left:1937.8px;top:1108.0px">Monitoring</div>
<div class="t tagt" style="left:2056.1px;top:1108.0px">Communication</div>
<div class="t kd" style="left:1919.8px;top:1133.00px;">Angela can review service<br>user's measure history.</div>
<div class="t kt" style="left:1932.4px;top:1329.00px;">Case - info</div>
<div class="t tagt" style="left:1896.0px;top:1378.0px">Monitoring</div>
<div class="t kd" style="left:1878.0px;top:1403.00px;">Angela can access to case<br>info and learn about case's<br>locations.</div>
<div class="t kt" style="left:2206.1px;top:1177.00px;">Case -<br>Whiteboard</div>
<div class="t tagt" style="left:2169.7px;top:1238.0px">Monitoring</div>
<div class="t tagt" style="left:2288.0px;top:1238.0px">Communication</div>
<div class="t kd" style="left:2151.7px;top:1263.00px;">To learn about the overall<br>condition, Angela can read<br>notes from other PMS. She<br>can also review her own notes<br>on the case. After the service,<br>she takes photos and writes<br>on the Whiteboard for future<br>follow up and sharing with<br>other PMS.</div>
<div class="t kt" style="left:2578.4px;top:1059.00px;">Case - Info</div>
<div class="t tagt" style="left:2542.0px;top:1108.0px">Monitoring</div>
<div class="t tagt" style="left:2660.3px;top:1108.0px">Communication</div>
<div class="t kd" style="left:2524.0px;top:1133.00px;">Angela can retrieve all related<br>info from Case section,<br>including measurement<br>history, photos of wound,<br>medical history, notes from<br>herself and other PMS,<br>updates from CWs.</div>
<div class="t kt" style="left:2848.3px;top:1261.00px;">Case - Whiteboard</div>
<div class="t tagt" style="left:2811.9px;top:1310.0px">Communication</div>
<div class="t kd" style="left:2793.9px;top:1335.00px;">To teach caregiver how to<br>take care of user, Angela can<br>show photos and videos of<br>service user's previous<br>condition from Case Info and<br>White Board.</div>
<div class="t per" style="left:2820.2px;top:1499.00px;">Caregiver</div>
<div class="t kt" style="left:2986.4px;top:1059.00px;">Post - Skype</div>
<div class="t tagt" style="left:2950.0px;top:1108.0px">Communication</div>
<div class="t tagt" style="left:3068.3px;top:1108.0px">Monitoring</div>
<div class="t kd" style="left:2932.0px;top:1133.00px;">Angela can Skype with CW to<br>learn about the real condition<br>and give more clearer<br>instructions.</div>
<div class="t kt" style="left:3340.4px;top:1047.00px;">Case -<br>Transport Fee</div>
<div class="t kd" style="left:3286.0px;top:1133.00px;">Angela can record her<br>transportation fee for each<br>home visit.</div>
<div class="t kt" style="left:3266.4px;top:1250.00px;">Post - Msg</div>
<div class="t tagt" style="left:3230.0px;top:1298.2px">Monitoring</div>
<div class="t tagt" style="left:3348.3px;top:1298.2px">Communication</div>
<div class="t kd" style="left:3212.0px;top:1324.00px;">Angela can receive photos<br>and videos from CW for the<br>concerning case.</div>
<div class="t kt" style="left:3566.4px;top:1061.00px;">CMS</div>
<div class="t kd" style="left:3512.0px;top:1135.00px;">Angela needs to input case<br>info and files into CMS.</div>
<div class="t kt" style="left:3848.4px;top:1049.00px;">Appointment</div>
<div class="t tagt" style="left:3812.0px;top:1098.0px">Scheduling</div>
<div class="t kd" style="left:3794.0px;top:1123.00px;">Angela can check tomorrow's<br>appointments for preparation</div>
<div class="t kt" style="left:3764.4px;top:1211.00px;">Case -<br>Remarks</div>
<div class="t tagt" style="left:3728.0px;top:1272.0px">Communication</div>
<div class="t kd" style="left:3710.0px;top:1297.00px;">Angela can write down special<br>notices in the Remark Section<br>for CWs to follow.</div>
<div class="t kt" style="left:4054.2px;top:1223.00px;">Post - Msg</div>
<div class="t tagt" style="left:4017.8px;top:1272.0px">Communication</div>
<div class="t kd" style="left:3999.8px;top:1297.00px;">Angela updates service<br>user's' situation to caregives<br>through Post - Group<br>Message.</div>
<div class="t kt" style="left:4288.4px;top:1049.00px;">Case - Remarks</div>
<div class="t tagt" style="left:4252.0px;top:1098.0px">Communication</div>
<div class="t kd" style="left:4234.0px;top:1123.00px;">Angela input some special<br>remarks for certain cases in<br>the Remark Section for CWs<br>to follow.</div>
<div class="t kt" style="left:4530.4px;top:1223.00px;">Post - Skype</div>
<div class="t tagt" style="left:4494.0px;top:1272.0px">Monitoring</div>
<div class="t kd" style="left:4476.0px;top:1297.00px;">Angela can receive<br>emergency Skype call from<br>service users for assistant.</div>
<div class="t kt" style="left:4770.1px;top:1047.00px;">Post - Msg</div>
<div class="t tagt" style="left:4733.7px;top:1096.0px">Communication</div>
<div class="t kd" style="left:4715.7px;top:1121.00px;">Angela may receive<br>emergency messages from<br>service users.</div>
<div class="t name" style="left:48.4px;top:1734.00px;">Lam Ze</div>
<div class="t sub" style="left:352.0px;top:1743.00px;">43 Year-Old, Case Worker, Married Female<br>She wants a stable and hassle-free job to raise her family.</div>
<div class="t goals" style="left:3471px;top:1767.00px"><b style="font-weight:normal;letter-spacing:-1px">GOALS: </b>Being informed about schedules and tasks, completing tasks with less hassle, getting supports when needed</div>
<div class="t ct" style="left:222.8px;top:1919.00px;">01<br>Check<br>Schedule</div>
<div class="t cd" style="left:223.0px;top:2029.00px;">Lam Ze checks her<br>schedule on the way<br>to ELC and founds she<br>was assigned to a new<br>task this morning. She<br>reads about the case<br>info and tasks on the<br>way, and packs<br>equipment after<br>arriving at ELC.</div>
<div class="t tm" style="left:223.0px;top:2277.00px;">07:30 am</div>
<div class="t ct" style="left:462.8px;top:1919.00px;">02<br>Start service<br>provision</div>
<div class="t cd" style="left:463.0px;top:2029.00px;">Lam Ze arrives at<br>service user's home<br>and conducts clock-in.</div>
<div class="t tm" style="left:463.0px;top:2277.00px;">08:30 am</div>
<div class="t ct" style="left:706.8px;top:1919.00px;">03<br>Health<br>Measurement</div>
<div class="t cd" style="left:707.0px;top:2029.00px;">Lam Ze conducts<br>health measurement<br>for the service user.<br>She notices an<br>abnormality in the<br>health index records<br>and informs SW to get<br>instructions.</div>
<div class="t tm" style="left:707.0px;top:2277.00px;">08:40 am</div>
<div class="t ct" style="left:946.8px;top:1919.00px;">04<br>PT/OT Training<br>Service</div>
<div class="t cd" style="left:947.0px;top:2029.00px;">Lam Ze follows the<br>instructions and<br>continues to provide<br>PT/OT training<br>services.</div>
<div class="t tm" style="left:947.0px;top:2277.00px;">09:00 am</div>
<div class="t ct" style="left:1186.8px;top:1921.00px;">05<br>Special Service</div>
<div class="t cd" style="left:1187.0px;top:2031.00px;">Lam Ze notices that<br>she forgets conducting<br>a special service when<br>she is about to call-<br>out. She then informs<br>CO that she will be late<br>for the next case and<br>starts providing home<br>service.</div>
<div class="t tm" style="left:1187.0px;top:2279.00px;">09:25 am</div>
<div class="t ct" style="left:1434.8px;top:1919.00px;">06<br>End Service<br>Provision</div>
<div class="t cd" style="left:1435.0px;top:2029.00px;">Lam Ze completes all<br>services and conducts<br>call out. She collects<br>feedback from the<br>service user, and notes<br>down some remarks.</div>
<div class="t tm" style="left:1435.0px;top:2277.00px;">09:50 am</div>
<div class="t ct" style="left:1674.8px;top:1919.00px;">07<br>Commute</div>
<div class="t cd" style="left:1675.0px;top:2029.00px;">Lam Ze travels to the<br>next case's home,<br>during which she<br>review the case info<br>and tasks. She also<br>receives an update<br>about the schedule<br>change tomorrow. She<br>marks down the<br>transportation fee.</div>
<div class="t tm" style="left:1675.0px;top:2277.00px;">10:00 am</div>
<div class="t ct" style="left:1916.8px;top:1919.00px;">08<br>Start Service<br>Provision</div>
<div class="t cd" style="left:1917.0px;top:2029.00px;">Lam Ze arrives at the<br>next service user's<br>home 15 mins late.<br>She conducts call-in<br>and start providing<br>services.</div>
<div class="t tm" style="left:1917.0px;top:2277.00px;">10:45 am</div>
<div class="t ct" style="left:2154.8px;top:1919.00px;">09<br>Health<br>Measurement</div>
<div class="t cd" style="left:2155.0px;top:2029.00px;">Lam Ze measures<br>service user's health<br>condition.</div>
<div class="t tm" style="left:2155.0px;top:2277.00px;">11:00 am</div>
<div class="t ct" style="left:2394.8px;top:1919.00px;">10<br>Medical<br>Service</div>
<div class="t cd" style="left:2395.0px;top:2029.00px;">Lam Ze is about to<br>bathe the wound for<br>the user. But she<br>spots something<br>unusual. She seeks<br>supports and<br>instructions from<br>nurse. She also takes<br>notes of this service for<br>later training use.</div>
<div class="t tm" style="left:2395.0px;top:2277.00px;">11:15 am</div>
<div class="t ct" style="left:2634.8px;top:1919.00px;">11<br>Payment<br>Collection</div>
<div class="t cd" style="left:2635.0px;top:2029.00px;">Lam Ze collects the<br>payment from users<br>and issues a<br>temporary invoice.</div>
<div class="t tm" style="left:2635.0px;top:2277.00px;">11:45 am</div>
<div class="t ct" style="left:2874.8px;top:1919.00px;">12<br>End Service<br>Provision</div>
<div class="t cd" style="left:2875.0px;top:2029.00px;">Lam Ze completes all<br>services and conducts<br>call out. She collects<br>feedbacks from service<br>user.</div>
<div class="t tm" style="left:2875.0px;top:2277.00px;">12:00 pm</div>
<div class="t ct" style="left:3114.8px;top:1919.00px;">13<br>Lunch Break</div>
<div class="t cd" style="left:3115.0px;top:2029.00px;">Lam Ze travels back to<br>ELC and has lunch<br>there. She receives her<br>new roster for the next<br>week.</div>
<div class="t tm" style="left:3115.0px;top:2277.00px;">12:15 pm</div>
<div class="t ct" style="left:3354.8px;top:1919.00px;">14<br>Weekly<br>Meeting</div>
<div class="t cd" style="left:3355.0px;top:2029.00px;">Organised by CO, Lam<br>Ze and other CWs<br>hand over cases to<br>each other. Lam Ze<br>shares 2 special cases<br>and listens to the<br>sharing from other<br>CWs and PMS.</div>
<div class="t tm" style="left:3355.0px;top:2277.00px;">02:00 pm</div>
<div class="t ct" style="left:3594.8px;top:1919.00px;">15<br>Document<br>Work</div>
<div class="t cd" style="left:3595.0px;top:2029.00px;">After the meeting, Lam<br>Ze does some<br>document work and<br>then leave office at<br>05:20pm.</div>
<div class="t tm" style="left:3595.0px;top:2277.00px;">04:50 pm</div>
<div class="t ax" style="left:97.0px;top:2295.00px;">Happiness</div>
<div class="t ax" style="left:245.0px;top:2393.00px;">Natural</div>
<div class="t ax" style="left:393.0px;top:2489.00px;">Frustration</div>
<div class="t leg" style="left:48.0px;top:2469.00px;">The emotion of Lam Ze if<br>she using the Apps</div>
<div class="t leg" style="left:48.0px;top:2533.00px;">The emotion of Lam Ze if<br>she not using the Apps</div>
<div class="t bar" style="left:536.3px;top:2526.00px;">AM - Home Visit 1: Unexpected New Case</div>
<div class="t bar" style="left:2236.5px;top:2526.00px;">AM - Home Visit 2: Familiar Case</div>
<div class="t bar" style="left:3432.4px;top:2526.00px;">PM - Weekly Meeting at ELC</div>
<div class="t kt" style="left:522.4px;top:2619.00px;">Task -<br>Roster &amp; List</div>
<div class="t tagt" style="left:486.0px;top:2680.0px">Informed</div>
<div class="t kd" style="left:468.0px;top:2705.00px;">Lam Ze is updated all the<br>time. She receives latest<br>schedule notification on App.<br>She is able to review the<br>details of new tasks on the<br>way.</div>
<div class="t kt" style="left:724.4px;top:2835.00px;">Case</div>
<div class="t tagt" style="left:688.0px;top:2884.0px">Informed</div>
<div class="t kd" style="left:670.0px;top:2909.00px;">Lam Ze can access to the<br>case info, previous remarks<br>and notices from PMS at<br>anytime during the week.</div>
<div class="t kt" style="left:868.3px;top:2669.00px;">QR Code</div>
<div class="t tagt" style="left:831.9px;top:2718.0px">Hassle-free</div>
<div class="t kd" style="left:813.9px;top:2743.00px;">Lam Ze scan the QR code on<br>service user's App to call in.</div>
<div class="t kt" style="left:1166.2px;top:2661.00px;">Post - Msg</div>
<div class="t tagt" style="left:1129.8px;top:2710.0px">Supported</div>
<div class="t kd" style="left:1111.8px;top:2735.00px;">Lam Ze shares the case info<br>and abnormality to SW and<br>PMS via Post.</div>
<div class="t per" style="left:1138.1px;top:2827.00px;">SW</div>
<div class="t kt" style="left:1106.4px;top:2887.00px;">IOT Device</div>
<div class="t tagt" style="left:1070.0px;top:2936.0px">Hassle-free</div>
<div class="t kd" style="left:1052.0px;top:2961.00px;">Lam Ze will receive a warning<br>message from the App if there<br>is abnormality based on the<br>history record.</div>
<div class="t kt" style="left:1380.4px;top:2667.00px;">Task - List</div>
<div class="t tagt" style="left:1344.0px;top:2716.0px">Hassle-free</div>
<div class="t tagt" style="left:1439.9px;top:2716.0px">Informed</div>
<div class="t kd" style="left:1326.0px;top:2741.00px;">Lam Ze follows the Training<br>Exercise Plan to deliver the<br>service.</div>
<div class="t kt" style="left:1650.2px;top:2643.00px;">Post - Msg</div>
<div class="t tagt" style="left:1613.8px;top:2692.0px">Hassle-free</div>
<div class="t tagt" style="left:1709.7px;top:2692.0px">Supported</div>
<div class="t kd" style="left:1595.8px;top:2717.00px;">Lam Ze can notify CO that<br>she will be late for 15 mins via<br>Post.</div>
<div class="t per" style="left:1622.1px;top:2809.00px;">CO</div>
<div class="t kt" style="left:1548.4px;top:2867.00px;">Task -<br>Check List</div>
<div class="t tagt" style="left:1512.0px;top:2928.0px">Informed</div>
<div class="t kd" style="left:1494.0px;top:2953.00px;">Lam Ze can go through the<br>checklist to make sure no task<br>is missing.</div>
<div class="t kt" style="left:1908.2px;top:2607.00px;">Case -<br>Remarks</div>
<div class="t tagt" style="left:1871.8px;top:2668.0px">Hassle-free</div>
<div class="t kd" style="left:1853.8px;top:2693.00px;">She notes down the<br>abnormality in Remarks. So<br>that other CWs and PMS can<br>view this incident in the future<br>for reference.</div>
<div class="t kt" style="left:1826.2px;top:2871.00px;">Survey</div>
<div class="t tagt" style="left:1789.8px;top:2920.0px">Hassle-free</div>
<div class="t kd" style="left:1771.8px;top:2945.00px;">Lam Ze gets service<br>feedbacks by instructing user<br>to fill in a survey on service<br>user's App.</div>
<div class="t kt" style="left:2146.4px;top:2618.00px;">Task - Updates</div>
<div class="t tagt" style="left:2110.0px;top:2666.3px">Informed</div>
<div class="t kd" style="left:2092.0px;top:2692.00px;">A notification of schedule<br>change is sent to her. She is<br>reassured because she knows<br>she is always updated.</div>
<div class="t kt" style="left:2098.4px;top:2881.00px;">Task -<br>Transportation</div>
<div class="t tagt" style="left:2062.0px;top:2942.0px">Hassle-free</div>
<div class="t kd" style="left:2044.0px;top:2967.00px;">Lam Ze can retrieve the past<br>service and input the<br>transportation fee at anytime<br>within the rostered week.</div>
<div class="t kt" style="left:2370.4px;top:2787.00px;">QR Code</div>
<div class="t tagt" style="left:2334.0px;top:2836.0px">Hassle-free</div>
<div class="t kd" style="left:2316.0px;top:2861.00px;">Lam Ze call-in easily through<br>scanning the QR code.</div>
<div class="t kt" style="left:2578.4px;top:2627.00px;">IOT Device</div>
<div class="t tagt" style="left:2542.0px;top:2676.0px">Hassle-free</div>
<div class="t kd" style="left:2524.0px;top:2701.00px;">Lam Ze conduct health<br>measurement quickly. The<br>data is recorded<br>automatically.</div>
<div class="t kt" style="left:2862.4px;top:2587.00px;">Case -<br>Remarks</div>
<div class="t tagt" style="left:2826.0px;top:2647.8px">Hassle-free</div>
<div class="t kd" style="left:2808.0px;top:2673.00px;">Lam Ze takes photos of the<br>condition and upload to the<br>Case's Remark Section,<br>which can be used as training<br>materials and reference for<br>nurse and other CWs in the<br>future.</div>
<div class="t kt" style="left:2802.7px;top:2879.00px;">Post - Skype</div>
<div class="t tagt" style="left:2766.3px;top:2928.0px">Supported</div>
<div class="t kd" style="left:2748.3px;top:2953.00px;">Lam Ze can Skype with<br>corresponding nurse through<br>Post, and show her the<br>condition. So that nurse can<br>know better about the<br>situation and instruct Lam Ze<br>more clearly.</div>
<div class="t per" style="left:2774.6px;top:3141.00px;">Nurse</div>
<div class="t kt" style="left:3084.4px;top:2665.00px;">Task -<br>Payment</div>
<div class="t tagt" style="left:3048.0px;top:2726.0px">Hassle-free</div>
<div class="t kd" style="left:3030.0px;top:2751.00px;">Lam Ze shows user the bill via<br>App(service user &amp; clientele).<br>After collecting the cash, Lam<br>Ze instructs service user to<br>sign on tablet. An e-invoice is<br>issued on the service user's<br>App.</div>
<div class="t kt" style="left:3322.4px;top:2639.00px;">QR Code</div>
<div class="t tagt" style="left:3286.0px;top:2688.0px">Hassle-free</div>
<div class="t kd" style="left:3268.0px;top:2713.00px;">Lam Ze scan the QR code on<br>service user's App to clock-<br>out.</div>
<div class="t kt" style="left:3552.0px;top:2749.00px;">Task - Roster</div>
<div class="t tagt" style="left:3515.6px;top:2797.6px">Informed</div>
<div class="t kd" style="left:3497.6px;top:2823.00px;">Lam Ze receives the new<br>schedule and task list in the<br>App. Though she is not<br>interested, she feel she is in<br>control of any updates and<br>changes.</div>
<div class="t kt" style="left:3776.2px;top:2625.00px;">Case</div>
<div class="t tagt" style="left:3739.8px;top:2673.7px">Informed</div>
<div class="t tagt" style="left:3835.7px;top:2673.7px">Hassle-free</div>
<div class="t kd" style="left:3721.8px;top:2699.00px;">As all the necessary info can<br>be retrieved from Case<br>Section and Task List, Lam Ze<br>doesn't need to take much<br>notes.</div>
<div class="t kt" style="left:4040.1px;top:2797.00px;">Case -<br>Remarks</div>
<div class="t tagt" style="left:4003.7px;top:2857.6px">Hassle-free</div>
<div class="t kd" style="left:3985.7px;top:2883.00px;">Lam Ze will spend less time<br>on documenting. Because the<br>notes she made has been<br>binded with Case Info.</div>
</div>
<div class="t goals gb" style="left:3212px;top:167.00px"><b style="font-weight:normal;-webkit-text-stroke:.42px #fff;letter-spacing:-1px">GOALS:</b><b style="font-weight:normal;-webkit-text-stroke:.42px #8fd8f7">Improving communications with CW, PMS &amp; caregivers</b><b style="font-weight:normal;-webkit-text-stroke:.42px #fff">, </b><b style="font-weight:normal;-webkit-text-stroke:.42px #fbc78e">monitoring case condition and CWs’ work</b><b style="font-weight:normal;-webkit-text-stroke:.42px #fff">, </b><b style="font-weight:normal;-webkit-text-stroke:.42px #dfe6a0">managing own schedule better</b></div>
<div class="t goals gb" style="left:3471px;top:1767.00px"><b style="font-weight:normal;-webkit-text-stroke:.42px #fff;letter-spacing:-1px">GOALS: </b><b style="font-weight:normal;-webkit-text-stroke:.42px #8fd8f7">Being informed about schedules and tasks</b><b style="font-weight:normal;-webkit-text-stroke:.42px #fff">, </b><b style="font-weight:normal;-webkit-text-stroke:.42px #fbc78e">completing tasks with less hassle</b><b style="font-weight:normal;-webkit-text-stroke:.42px #fff">, </b><b style="font-weight:normal;-webkit-text-stroke:.42px #dfe6a0">getting supports when needed</b></div>
</body></html>
